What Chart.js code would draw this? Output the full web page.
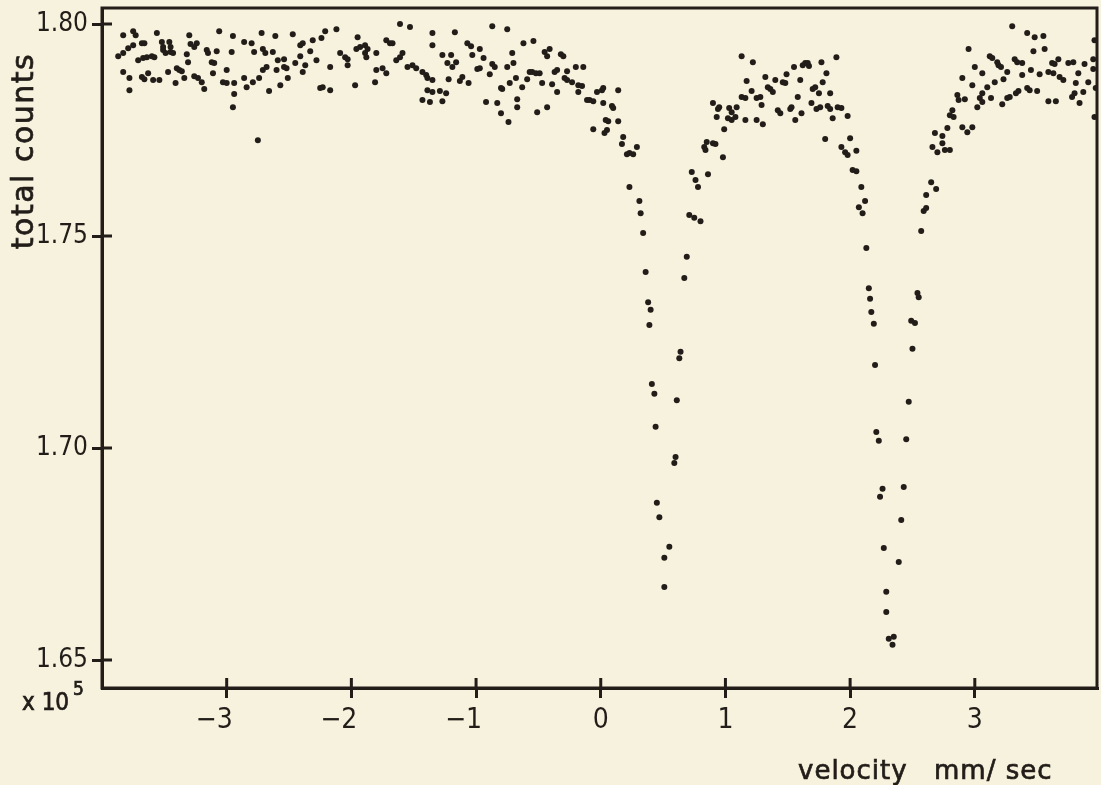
<!DOCTYPE html>
<html>
<head>
<meta charset="utf-8">
<title>total counts vs velocity</title>
<script src="https://cdn.jsdelivr.net/npm/chart.js@4.4.1/dist/chart.umd.min.js"></script>
<style>
  html, body { margin: 0; padding: 0; background: #f7f2dd; }
  #wrap { position: relative; width: 1101px; height: 785px; }
</style>
</head>
<body>
<div id="wrap"><canvas id="spectrum"></canvas></div>
<script>
// velocity (mm/sec) of every point, left to right by region
const velocity = [
  // flat part, left
  -3.87, -3.83, -3.83, -3.83, -3.79, -3.78, -3.78, -3.75, -3.75, -3.73, -3.71, -3.68, -3.68, -3.67, -3.66, -3.66,
  -3.64, -3.63, -3.60, -3.59, -3.58, -3.56, -3.54, -3.52, -3.51, -3.51, -3.49, -3.47, -3.46, -3.45, -3.45, -3.43,
  -3.41, -3.40, -3.38, -3.36, -3.34, -3.32, -3.31, -3.30, -3.29, -3.26, -3.26, -3.24, -3.23, -3.20, -3.18, -3.16,
  -3.15, -3.12, -3.11, -3.10, -3.08, -3.06, -3.03, -3.00, -3.00, -2.96, -2.95, -2.95, -2.94, -2.94, -2.86, -2.86,
  -2.84, -2.80, -2.79, -2.78, -2.75, -2.74, -2.72, -2.71, -2.71, -2.69, -2.68, -2.66, -2.63, -2.61, -2.60, -2.59,
  -2.57, -2.54, -2.54, -2.52, -2.51, -2.47, -2.45, -2.41, -2.41, -2.39, -2.39, -2.37, -2.33, -2.31, -2.28, -2.25,
  -2.24, -2.23, -2.21, -2.17, -2.17, -2.12, -2.09, -2.05, -2.03, -2.03, -1.97, -1.96, -1.95, -1.93, -1.89, -1.89,
  -1.88, -1.87, -1.81, -1.80, -1.80, -1.75, -1.72, -1.72, -1.69, -1.67, -1.64, -1.61, -1.61, -1.59, -1.55, -1.53,
  -1.51, -1.48, -1.43, -1.40, -1.39, -1.39, -1.35, -1.35, -1.35, -1.35, -1.43, -1.37,
  -1.29, -1.27, -1.27, -1.24, -1.23, -1.22, -1.20, -1.19, -1.17, -1.16, -1.13, -1.11, -1.07, -1.06, -1.04, -1.03,
  -0.99, -0.97, -0.97, -0.94, -0.92, -0.89, -0.87, -0.87, -0.85, -0.83, -0.80, -0.80, -0.79, -0.75, -0.75, -0.74,
  -0.73, -0.71, -0.70, -0.68, -0.67, -0.67, -0.63, -0.62, -0.59, -0.57, -0.55, -0.54, -0.52, -0.51, -0.49, -0.47,
  -0.45, -0.43, -0.43, -0.41, -0.39, -0.37, -0.35, -0.35, -0.32, -0.30, -0.29, -0.27, -0.27, -0.23, -0.20, -0.18,
  -0.18, -0.15, -0.14, -0.11, -0.09, -0.06, -0.06, -0.03, 0.01, 0.02, 0.02, 0.03, 0.04, 0.05, 0.06, 0.09,
  0.10, 0.14, 0.14, 0.17, 0.18, 0.21, 0.23, 0.23, 0.26, 0.29,
  // first dip
  0.31, 0.32, 0.34, 0.36, 0.38, 0.39, 0.40, 0.41, 0.43, 0.44, 0.45, 0.47, 0.51, 0.55, 0.51, 0.59,
  0.60, 0.61, 0.63, 0.64, 0.67, 0.69, 0.71, 0.75, 0.80,
  // between the dips
  0.73, 0.76, 0.78, 0.83, 0.84, 0.85, 0.86, 0.90, 0.90, 0.92, 0.93, 0.94, 0.95, 0.98, 0.99, 1.02,
  1.03, 1.05, 1.05, 1.08, 1.09, 1.13, 1.13, 1.16, 1.16, 1.17, 1.21, 1.22, 1.25, 1.25, 1.28, 1.29,
  1.30, 1.32, 1.34, 1.36, 1.38, 1.40, 1.42, 1.44, 1.46, 1.48, 1.49, 1.52, 1.53, 1.55, 1.56, 1.58,
  1.60, 1.61, 1.62, 1.64, 1.66, 1.67, 1.69, 1.70, 1.72, 1.73, 1.75, 1.76, 1.77, 1.78, 1.80, 1.81,
  1.82, 1.84, 1.84, 1.86, 1.89, 1.90, 1.93, 1.93, 1.96, 1.98, 1.98, 2.00, 2.02, 2.05, 2.05, 2.09,
  // second dip
  2.07, 2.10, 2.12, 2.13, 2.15, 2.16, 2.17, 2.19, 2.20, 2.21, 2.23, 2.24, 2.26, 2.27, 2.29, 2.29,
  2.31, 2.34, 2.35, 2.39, 2.41, 2.43, 2.45, 2.47, 2.49, 2.50, 2.52, 2.54, 2.55, 2.57, 2.59, 2.61,
  // flat part, right
  2.61, 2.65, 2.66, 2.68, 2.69, 2.70, 2.74, 2.74, 2.76, 2.78, 2.80, 2.80, 2.82, 2.83, 2.86, 2.87,
  2.90, 2.90, 2.92, 2.94, 2.95, 2.98, 2.98, 3.00, 3.02, 3.04, 3.06, 3.06, 3.06, 3.10, 3.12, 3.13,
  3.14, 3.16, 3.18, 3.19, 3.21, 3.22, 3.23, 3.26, 3.26, 3.28, 3.30, 3.32, 3.33, 3.34, 3.35, 3.38,
  3.38, 3.42, 3.42, 3.44, 3.45, 3.47, 3.48, 3.50, 3.52, 3.55, 3.56, 3.59, 3.59, 3.62, 3.63, 3.64,
  3.65, 3.67, 3.68, 3.71, 3.75, 3.78, 3.79, 3.80, 3.81, 3.83, 3.84, 3.87, 3.88, 3.91, 3.95, 3.95,
  3.96, 3.96, 3.97
];

// total counts (x 10^5), same order as velocity
const counts = [
  1.7924, 1.7974, 1.7932, 1.7887, 1.7943, 1.7873, 1.7844, 1.7983, 1.7950, 1.7974, 1.7915, 1.7955, 1.7875, 1.7920, 1.7955, 1.7870,
  1.7922, 1.7884, 1.7924, 1.7868, 1.7922, 1.7979, 1.7868, 1.7958, 1.7939, 1.7946, 1.7932, 1.7887, 1.7958, 1.7946, 1.7934, 1.7932,
  1.7861, 1.7896, 1.7892, 1.7889, 1.7873, 1.7929, 1.7910, 1.7974, 1.7953, 1.7946, 1.7877, 1.7955, 1.7873, 1.7863, 1.7847, 1.7939,
  1.7932, 1.7910, 1.7884, 1.7908, 1.7936, 1.7983, 1.7863, 1.7892, 1.7861, 1.7934, 1.7972, 1.7804, 1.7835, 1.7861, 1.7958, 1.7873,
  1.7851, 1.7955, 1.7863, 1.7934, 1.7726, 1.7873, 1.7979, 1.7941, 1.7892, 1.7932, 1.7899, 1.7842, 1.7934, 1.7972, 1.7892, 1.7915,
  1.7856, 1.7899, 1.7917, 1.7896, 1.7873, 1.7976, 1.7908, 1.7950, 1.7924, 1.7955, 1.7887, 1.7903, 1.7936, 1.7962, 1.7915, 1.7849,
  1.7967, 1.7851, 1.7983, 1.7899, 1.7844, 1.7988, 1.7932, 1.7922, 1.7917, 1.7903, 1.7856, 1.7941, 1.7969, 1.7946, 1.7950, 1.7932,
  1.7922, 1.7941, 1.7863, 1.7932, 1.7892, 1.7896, 1.7962, 1.7884, 1.7955, 1.7955, 1.7915, 1.8000, 1.7922, 1.7932, 1.7899, 1.7993,
  1.7903, 1.7896, 1.7887, 1.7880, 1.7873, 1.7844, 1.7979, 1.7868, 1.7840, 1.7950, 1.7821, 1.7816,
  1.7842, 1.7927, 1.7818, 1.7837, 1.7908, 1.7870, 1.7927, 1.7899, 1.7981, 1.7910, 1.7866, 1.7875, 1.7955, 1.7861, 1.7948, 1.7927,
  1.7894, 1.7941, 1.7896, 1.7920, 1.7816, 1.7882, 1.7906, 1.7995, 1.7899, 1.7814, 1.7849, 1.7790, 1.7847, 1.7899, 1.7988, 1.7769,
  1.7861, 1.7932, 1.7908, 1.7873, 1.7823, 1.7804, 1.7851, 1.7955, 1.7870, 1.7887, 1.7887, 1.7960, 1.7884, 1.7792, 1.7884, 1.7861,
  1.7934, 1.7924, 1.7804, 1.7941, 1.7858, 1.7887, 1.7840, 1.7892, 1.7929, 1.7924, 1.7873, 1.7889, 1.7868, 1.7863, 1.7899, 1.7856,
  1.7840, 1.7854, 1.7899, 1.7821, 1.7821, 1.7818, 1.7752, 1.7840, 1.7844, 1.7849, 1.7814, 1.7743, 1.7774, 1.7750, 1.7771, 1.7807,
  1.7802, 1.7844, 1.7771, 1.7717, 1.7734, 1.7693, 1.7616, 1.7696, 1.7693, 1.7710,
  1.7583, 1.7554, 1.7507, 1.7415, 1.7344, 1.7290, 1.7326, 1.7151, 1.7128, 1.7050, 1.6871, 1.6837, 1.6741, 1.6767, 1.6672, 1.6965,
  1.6979, 1.7113, 1.7212, 1.7227, 1.7401, 1.7451, 1.7550, 1.7543, 1.7535,
  1.7651, 1.7632, 1.7616, 1.7710, 1.7703, 1.7722, 1.7646, 1.7814, 1.7719, 1.7717, 1.7781, 1.7800, 1.7804, 1.7686, 1.7752, 1.7778,
  1.7802, 1.7792, 1.7774, 1.7781, 1.7804, 1.7924, 1.7828, 1.7826, 1.7774, 1.7866, 1.7842, 1.7910, 1.7826, 1.7774, 1.7828, 1.7809,
  1.7764, 1.7875, 1.7851, 1.7847, 1.7840, 1.7868, 1.7797, 1.7790, 1.7863, 1.7861, 1.7882, 1.7800, 1.7804, 1.7899, 1.7774, 1.7828,
  1.7868, 1.7790, 1.7903, 1.7908, 1.7908, 1.7901, 1.7814, 1.7847, 1.7851, 1.7800, 1.7837, 1.7804, 1.7910, 1.7863, 1.7729, 1.7884,
  1.7807, 1.7837, 1.7800, 1.7778, 1.7922, 1.7804, 1.7802, 1.7710, 1.7698, 1.7783, 1.7691, 1.7731, 1.7656, 1.7653, 1.7701, 1.7616,
  1.7568, 1.7554, 1.7583, 1.7472, 1.7377, 1.7352, 1.7321, 1.7293, 1.7196, 1.7038, 1.7017, 1.6885, 1.6904, 1.6764, 1.6661, 1.6613,
  1.6550, 1.6536, 1.6555, 1.6731, 1.6830, 1.6908, 1.7021, 1.7109, 1.7300, 1.7234, 1.7295, 1.7366, 1.7356, 1.7512, 1.7559, 1.7566,
  1.7597, 1.7627, 1.7710, 1.7743, 1.7611, 1.7698, 1.7736, 1.7719, 1.7703, 1.7755, 1.7785, 1.7703, 1.7797, 1.7781, 1.7833, 1.7821,
  1.7873, 1.7757, 1.7823, 1.7745, 1.7941, 1.7757, 1.7856, 1.7899, 1.7804, 1.7826, 1.7884, 1.7837, 1.7816, 1.7851, 1.7924, 1.7826,
  1.7920, 1.7863, 1.7910, 1.7903, 1.7899, 1.7811, 1.7870, 1.7887, 1.7826, 1.7828, 1.7995, 1.7917, 1.7837, 1.7910, 1.7842, 1.7908,
  1.7880, 1.7979, 1.7849, 1.7844, 1.7892, 1.7936, 1.7969, 1.7842, 1.7882, 1.7972, 1.7941, 1.7818, 1.7887, 1.7908, 1.7884, 1.7906,
  1.7818, 1.7917, 1.7875, 1.7868, 1.7908, 1.7828, 1.7910, 1.7837, 1.7861, 1.7884, 1.7814, 1.7840, 1.7906, 1.7863, 1.7917, 1.7894,
  1.7781, 1.7962, 1.7849
];

const velocityTicks = [-3, -2, -1, 0, 1, 2, 3];
const countTicks = [1.65, 1.70, 1.75, 1.80];
const velocityRange = [-4.0, 3.98];
const countRange = [1.6434, 1.8038];

const ink = '#221d19';
const narrowFont = "'DejaVu Sans Condensed', 'DejaVu Sans', sans-serif";
const wideFont = "'DejaVu Sans', sans-serif";

// fill and lightly stroke, so the lettering is as heavy as the stencil on the scan
function inkText(ctx, text, x, y) {
  ctx.fillText(text, x, y);
  ctx.strokeText(text, x, y);
}

// frame, inner tick marks and hand-lettered captions of the old plot
const paperPlugin = {
  id: 'paper',
  afterDraw(chart) {
    const { ctx, chartArea: a, scales } = chart;
    ctx.save();
    ctx.strokeStyle = ink;
    ctx.lineWidth = 3;
    ctx.strokeRect(a.left, a.top, a.right - a.left, a.bottom - a.top);

    ctx.beginPath();
    scales.x.ticks.forEach(t => {
      const px = scales.x.getPixelForValue(t.value);
      ctx.moveTo(px, a.bottom);
      ctx.lineTo(px, a.bottom - 10);
    });
    scales.y.ticks.forEach(t => {
      const py = scales.y.getPixelForValue(t.value);
      ctx.moveTo(a.left, py);
      ctx.lineTo(a.left + 10, py);
    });
    ctx.stroke();

    ctx.fillStyle = ink;
    ctx.lineWidth = 0.7;
    ctx.textBaseline = 'alphabetic';

    // y axis title
    ctx.save();
    ctx.translate(33, 151);
    ctx.rotate(-Math.PI / 2);
    ctx.font = '30px ' + wideFont;
    ctx.letterSpacing = '1.5px';
    ctx.textAlign = 'center';
    inkText(ctx, 'total counts', 0, 0);
    ctx.restore();

    // x axis title
    ctx.save();
    ctx.font = '26px ' + wideFont;
    ctx.letterSpacing = '1px';
    ctx.textAlign = 'left';
    inkText(ctx, 'velocity', 798, 779);
    inkText(ctx, 'mm/ sec', 934, 779);
    ctx.restore();

    // scale factor
    ctx.font = '24px ' + narrowFont;
    ctx.textAlign = 'left';
    inkText(ctx, 'x 10', 22, 710);
    ctx.font = '19px ' + narrowFont;
    inkText(ctx, '5', 73, 695);
    ctx.restore();
  }
};

new Chart(document.getElementById('spectrum'), {
  type: 'scatter',
  data: {
    datasets: [{
      label: 'total counts',
      data: velocity.map((v, i) => ({ x: v, y: counts[i] })),
      pointRadius: 3,
      pointHoverRadius: 3,
      pointBackgroundColor: ink,
      pointBorderWidth: 0
    }]
  },
  options: {
    responsive: true,
    maintainAspectRatio: false,
    animation: false,
    devicePixelRatio: 1,
    layout: { padding: { top: 8, right: 4, left: 0, bottom: 0 } },
    plugins: { legend: { display: false }, tooltip: { enabled: false } },
    scales: {
      x: {
        type: 'linear',
        min: velocityRange[0],
        max: velocityRange[1],
        afterBuildTicks: s => { s.ticks = velocityTicks.map(v => ({ value: v })); },
        afterFit: s => { s.height = 97; s.paddingLeft = 0; s.paddingRight = 0; },
        border: { color: ink, width: 3 },
        grid: { drawOnChartArea: false, tickLength: 10, color: ink, lineWidth: 3 },
        ticks: {
          color: ink,
          padding: 6,
          maxRotation: 0,
          autoSkip: false,
          font: { family: narrowFont, size: 28 },
          callback: v => v < 0 ? '\u2212' + Math.abs(v) + '\u2003' : String(v)
        }
      },
      y: {
        min: countRange[0],
        max: countRange[1],
        afterBuildTicks: s => { s.ticks = countTicks.map(v => ({ value: v })); },
        afterFit: s => { s.width = 102; s.paddingTop = 0; s.paddingBottom = 0; },
        border: { color: ink, width: 3 },
        grid: { drawOnChartArea: false, tickLength: 10, color: ink, lineWidth: 3 },
        ticks: {
          color: ink,
          padding: 4,
          font: { family: narrowFont, size: 26 },
          callback: v => v.toFixed(2)
        }
      }
    }
  },
  plugins: [paperPlugin]
});
</script>
</body>
</html>
